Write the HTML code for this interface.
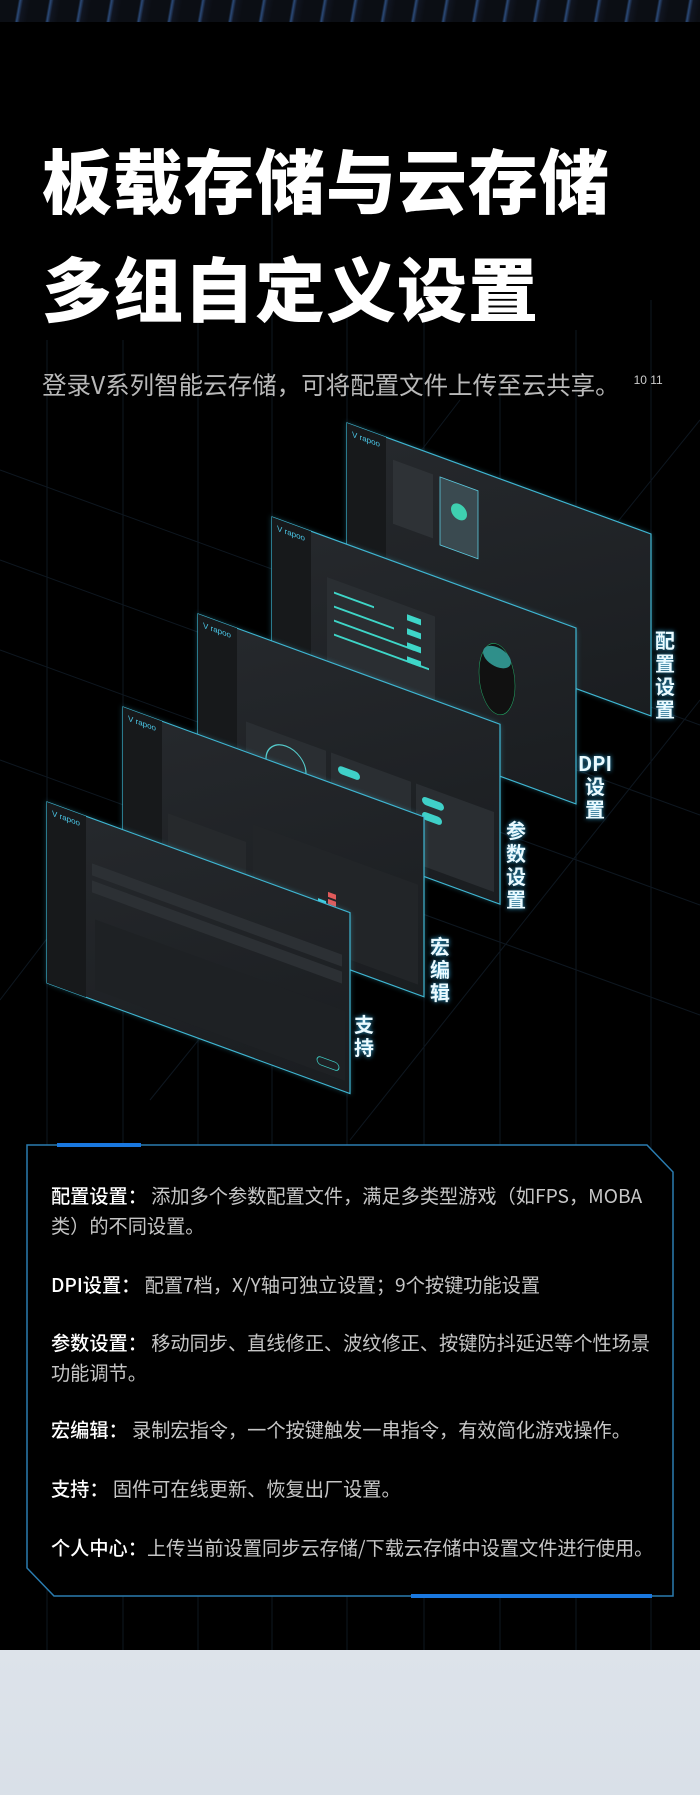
<!DOCTYPE html>
<html><head><meta charset="utf-8">
<style>
*{margin:0;padding:0;box-sizing:border-box}
html,body{width:700px;height:1795px;background:#000;overflow:hidden}
body{position:relative;font-family:"Liberation Sans","Noto Sans CJK SC",sans-serif}
.banner{position:absolute;left:0;top:0;width:700px;height:22px;background:repeating-linear-gradient(100deg,#0b0e14 0px,#0b0e14 18px,#2b4a78 20px,#101521 23px,#0b0e14 30px);}
.t{position:absolute;left:42px;color:#fff;font-family:"Noto Sans CJK SC",sans-serif;font-weight:900;font-size:70px;letter-spacing:1px;line-height:1}
.sub{position:absolute;left:42px;top:373px;color:#b9b9b9;font-family:"Noto Sans CJK SC",sans-serif;font-size:24.5px;line-height:1;white-space:nowrap}
.sub sup{font-family:"Liberation Sans",sans-serif;font-size:12px;vertical-align:10px;margin-left:14px;color:#ccc}
.lab{position:absolute;color:#eafaff;font-family:"Noto Sans CJK SC",sans-serif;font-weight:700;font-size:20px;line-height:23px;width:24px;text-align:center;text-shadow:0 0 5px #3ad}
.txt{position:absolute;left:51px;width:610px;color:#c6c6c6;font-family:"Noto Sans CJK SC",sans-serif;font-size:19.2px;line-height:30px}
.txt b{color:#fff;font-weight:500}
.gray{position:absolute;left:0;top:1650px;width:700px;height:145px;background:linear-gradient(180deg,#dde3ea,#d9e0e8)}
</style></head><body>
<div class="banner"></div>
<svg width="700" height="1650" style="position:absolute;left:0;top:0">
<defs>
<filter id="g" x="-10%" y="-10%" width="120%" height="120%"><feGaussianBlur stdDeviation="3"/></filter>
<linearGradient id="pg" x1="0" y1="0" x2="1" y2="1"><stop offset="0" stop-color="#26292d"/><stop offset="1" stop-color="#1a1d20"/></linearGradient>
</defs>
<g stroke="#0e1720" stroke-width="1">
<line x1="47" y1="340" x2="47" y2="1650"/><line x1="123" y1="340" x2="123" y2="1650"/>
<line x1="198" y1="300" x2="198" y2="1650"/><line x1="272" y1="200" x2="272" y2="1650"/>
<line x1="347" y1="300" x2="347" y2="1650"/><line x1="424" y1="300" x2="424" y2="1650"/>
<line x1="500" y1="380" x2="500" y2="1650"/><line x1="576" y1="330" x2="576" y2="1650"/>
<line x1="651" y1="300" x2="651" y2="1650"/>
<line x1="0" y1="650" x2="700" y2="905"/><line x1="0" y1="560" x2="700" y2="815"/>
<line x1="0" y1="470" x2="700" y2="725"/><line x1="0" y1="760" x2="700" y2="1015"/>
<line x1="150" y1="1100" x2="700" y2="420"/><line x1="350" y1="1140" x2="700" y2="700"/>
<line x1="0" y1="1000" x2="460" y2="400"/>
</g>
<g id="panels">
<g transform="translate(347,423) skewY(20.05)">
<rect width="304" height="182" fill="#4ad0ee" filter="url(#g)" opacity=".35"/>
<rect width="304" height="182" fill="url(#pg)" stroke="#3fb6d2" stroke-width="1.2"/>
<rect width="39" height="182" fill="#17191b"/>
<rect x="46" y="20" width="40" height="64" fill="#2e3236"/>
<rect x="93" y="20" width="38" height="68" fill="#3a4a50" stroke="#5cc9de" stroke-width=".8"/>
<circle cx="112" cy="48" r="8" fill="#3ed0b0"/>
<text x="5" y="12" fill="#4cc8e8" font-size="8" font-family="Liberation Sans">V rapoo</text>
</g>
<g transform="translate(272,517) skewY(20.05)">
<rect width="304" height="176" fill="#4ad0ee" filter="url(#g)" opacity=".35"/>
<rect width="304" height="176" fill="url(#pg)" stroke="#3fb6d2" stroke-width="1.2"/>
<rect width="39" height="176" fill="#17191b"/>
<rect x="55" y="40" width="108" height="120" fill="#2a2e32"/>
<g fill="#3ed6c8"><rect x="62" y="52" width="40" height="2"/><rect x="62" y="66" width="60" height="2"/><rect x="62" y="80" width="80" height="2"/><rect x="62" y="94" width="95" height="2"/><rect x="135" y="48" width="14" height="6"/><rect x="135" y="62" width="14" height="6"/><rect x="135" y="76" width="14" height="6"/><rect x="135" y="90" width="14" height="6"/></g>
<ellipse cx="225" cy="80" rx="18" ry="35" fill="#111" stroke="#2a6" stroke-width=".5"/>
<ellipse cx="225" cy="58" rx="14" ry="10" fill="#2f8f8a"/>
<text x="5" y="12" fill="#4cc8e8" font-size="8" font-family="Liberation Sans">V rapoo</text>
</g>
<g transform="translate(198,614) skewY(20.05)">
<rect width="302" height="180" fill="#4ad0ee" filter="url(#g)" opacity=".35"/>
<rect width="302" height="180" fill="url(#pg)" stroke="#3fb6d2" stroke-width="1.2"/>
<rect width="39" height="180" fill="#17191b"/>
<rect x="48" y="90" width="80" height="80" fill="#2a2e32"/>
<circle cx="88" cy="120" r="20" fill="none" stroke="#5cc" stroke-width="1.2"/>
<rect x="133" y="90" width="80" height="80" fill="#2a2e32"/>
<rect x="218" y="90" width="78" height="80" fill="#2a2e32"/>
<rect x="140" y="100" width="22" height="8" rx="4" fill="#3fd0c8"/>
<rect x="224" y="100" width="22" height="8" rx="4" fill="#3fd0c8"/>
<rect x="224" y="115" width="20" height="8" rx="4" fill="#3fd0c8"/>
<text x="5" y="12" fill="#4cc8e8" font-size="8" font-family="Liberation Sans">V rapoo</text>
</g>
<g transform="translate(123,707) skewY(20.05)">
<rect width="301" height="180" fill="#4ad0ee" filter="url(#g)" opacity=".35"/>
<rect width="301" height="180" fill="url(#pg)" stroke="#3fb6d2" stroke-width="1.2"/>
<rect width="39" height="180" fill="#17191b"/>
<rect x="45" y="90" width="78" height="80" fill="#26292c"/>
<rect x="130" y="70" width="165" height="100" fill="#222528"/>
<g><rect x="195" y="120" width="8" height="8" fill="#3fd0e0"/><rect x="205" y="110" width="8" height="5" fill="#e05a5a"/><rect x="205" y="117" width="8" height="5" fill="#e05a5a"/><rect x="215" y="128" width="8" height="8" fill="#3fa88a"/><rect x="183" y="128" width="8" height="8" fill="#3fa88a"/><rect x="195" y="136" width="8" height="4" fill="#6f6"/></g>
<text x="5" y="12" fill="#4cc8e8" font-size="8" font-family="Liberation Sans">V rapoo</text>
</g>
<g transform="translate(47,802) skewY(20.05)">
<rect width="303" height="181" fill="#4ad0ee" filter="url(#g)" opacity=".35"/>
<rect width="303" height="181" fill="url(#pg)" stroke="#3fb6d2" stroke-width="1.2"/>
<rect width="39" height="181" fill="#17191b"/>
<rect x="45" y="45" width="250" height="12" fill="#2c3034"/>
<rect x="45" y="62" width="250" height="12" fill="#2c3034"/>
<rect x="48" y="100" width="250" height="70" fill="#1e2124"/>
<rect x="270" y="155" width="22" height="8" rx="4" fill="none" stroke="#3fd0c8" stroke-width=".8"/>
<text x="5" y="12" fill="#4cc8e8" font-size="8" font-family="Liberation Sans">V rapoo</text>
</g>
</g>
<path d="M27 1145 L647 1145 L673 1172 L673 1596 L54 1596 L27 1568 Z" fill="#000" stroke="#2a7cb0" stroke-width="1.5"/>
<rect x="57" y="1143" width="84" height="4" fill="#1a78e0"/>
<rect x="411" y="1594" width="241" height="4" fill="#1a78e0"/>
</svg>
<div class="t" style="top:144px">板载存储与云存储</div>
<div class="t" style="top:252px">多组自定义设置</div>
<div class="sub">登录V系列智能云存储，可将配置文件上传至云共享。<sup>10 11</sup></div>

<div class="lab" style="left:653px;top:628px">配<br>置<br>设<br>置</div>
<div class="lab" style="left:577px;top:751px;width:36px">DPI<br>设<br>置</div>
<div class="lab" style="left:504px;top:818px">参<br>数<br>设<br>置</div>
<div class="lab" style="left:428px;top:934px">宏<br>编<br>辑</div>
<div class="lab" style="left:352px;top:1012px">支<br>持</div>

<div class="txt" style="top:1180px"><b>配置设置：</b> 添加多个参数配置文件，满足多类型游戏（如FPS，MOBA类）的不同设置。</div>
<div class="txt" style="top:1269px"><b>DPI设置：</b> 配置7档，X/Y轴可独立设置；9个按键功能设置</div>
<div class="txt" style="top:1327px"><b>参数设置：</b> 移动同步、直线修正、波纹修正、按键防抖延迟等个性场景功能调节。</div>
<div class="txt" style="top:1414px"><b>宏编辑：</b> 录制宏指令，一个按键触发一串指令，有效简化游戏操作。</div>
<div class="txt" style="top:1473px"><b>支持：</b> 固件可在线更新、恢复出厂设置。</div>
<div class="txt" style="top:1532px;width:630px;white-space:nowrap"><b>个人中心：</b>上传当前设置同步云存储/下载云存储中设置文件进行使用。</div>
<div class="gray"></div>
</body></html>
